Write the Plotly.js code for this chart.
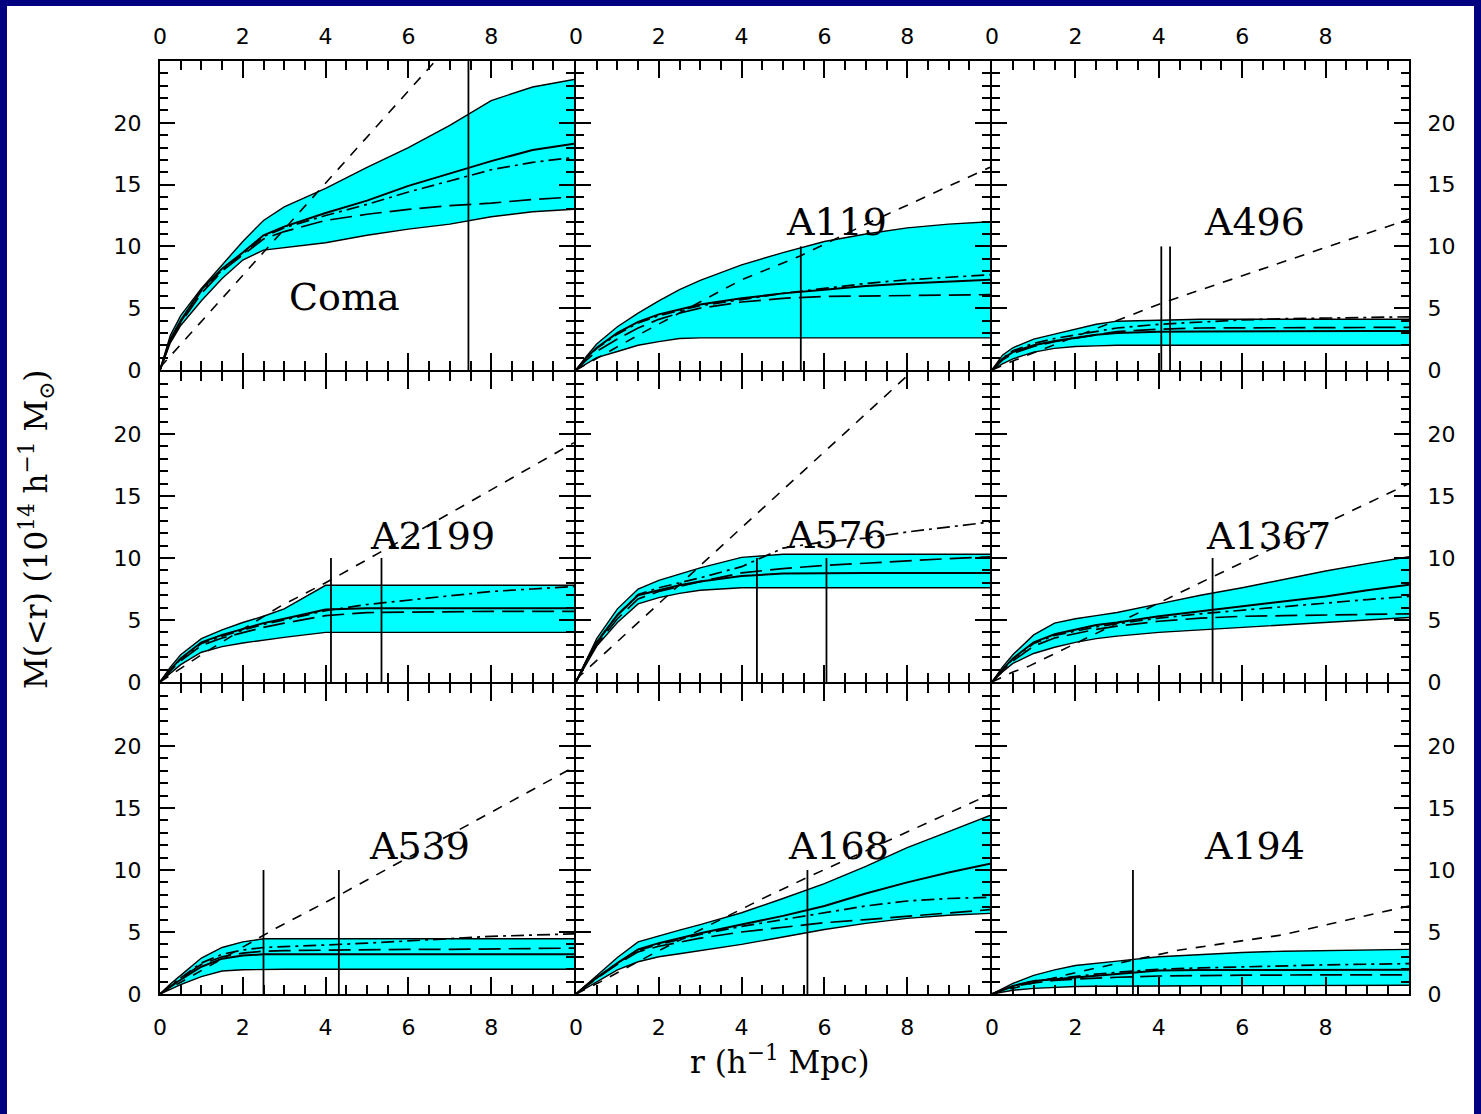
<!DOCTYPE html>
<html><head><meta charset="utf-8">
<script src="https://cdn.plot.ly/plotly-3.0.1.min.js"></script>
<style>html,body{margin:0;padding:0;background:#000080;}#chart{width:1481px;height:1114px;}</style>
</head><body><div id="chart"></div>
<script>
// common radius grid (h^-1 Mpc)
const r = [0, 0.25, 0.5, 1, 1.5, 2, 2.5, 3, 4, 5, 6, 7, 8, 9, 10];
const clusterNames = ['Coma', 'A119', 'A496', 'A2199', 'A576', 'A1367', 'A539', 'A168', 'A194'];

// Coma
const comaUpper   = [0, 2.8, 4.4, 6.6, 8.5, 10.4, 12.1, 13.2, 14.7, 16.4, 18.0, 19.8, 21.8, 22.9, 23.5];
const comaLower   = [0, 2.2, 3.6, 5.6, 7.4, 8.9, 9.7, 9.9, 10.3, 10.9, 11.4, 11.8, 12.4, 12.8, 13.0];
const comaSolid   = [0, 2.5, 4.0, 6.5, 8.2, 9.5, 10.9, 11.6, 12.7, 13.7, 14.9, 15.9, 16.9, 17.8, 18.3];
const comaDashDot = [0, 2.4, 3.9, 6.4, 8.1, 9.4, 10.8, 11.5, 12.5, 13.4, 14.4, 15.3, 16.2, 16.8, 17.2];
const comaLongDash= [0, 2.3, 3.8, 6.2, 8.0, 9.3, 10.6, 11.2, 12.1, 12.6, 13.0, 13.3, 13.5, 13.8, 14.0];
const comaDashX = [0, 6.65];
const comaDashY = [0.2, 25.0];
const comaVert = [7.45];

// A119
const a119Upper   = [0, 1.1, 2.1, 3.5, 4.6, 5.6, 6.5, 7.25, 8.5, 9.5, 10.4, 11.0, 11.5, 11.8, 12.0];
const a119Lower   = [0, 0.5, 1.0, 1.5, 2.0, 2.3, 2.55, 2.6, 2.6, 2.6, 2.6, 2.6, 2.6, 2.6, 2.6];
const a119Solid   = [0, 1.0, 1.8, 3.0, 3.9, 4.5, 4.9, 5.3, 5.8, 6.2, 6.5, 6.8, 7.0, 7.15, 7.3];
const a119DashDot = [0, 0.95, 1.75, 2.9, 3.8, 4.4, 4.8, 5.2, 5.7, 6.2, 6.6, 7.0, 7.3, 7.5, 7.7];
const a119LongDash= [0, 0.8, 1.5, 2.5, 3.4, 4.1, 4.6, 5.0, 5.5, 5.8, 5.95, 6.0, 6.05, 6.1, 6.1];
const a119DashX = [0, 1.6, 4.0, 5.4, 7.0, 9.8, 10];
const a119DashY = [0, 3.0, 7.3, 9.2, 11.8, 16.1, 16.4];
const a119Vert = [5.43];

// A496
const a496Upper   = [0, 1.2, 1.8, 2.5, 2.9, 3.3, 3.7, 3.95, 4.05, 4.1, 4.1, 4.1, 4.1, 4.1, 4.1];
const a496Lower   = [0, 0.5, 0.9, 1.45, 1.75, 1.9, 1.95, 2.0, 2.0, 2.0, 2.0, 2.0, 2.0, 2.0, 2.0];
const a496Solid   = [0, 0.9, 1.45, 2.0, 2.35, 2.6, 2.85, 3.0, 3.1, 3.12, 3.14, 3.15, 3.15, 3.15, 3.15];
const a496DashDot = [0, 0.95, 1.55, 2.15, 2.55, 2.85, 3.1, 3.4, 3.7, 3.9, 4.05, 4.15, 4.2, 4.25, 4.3];
const a496LongDash= [0, 0.8, 1.35, 1.9, 2.3, 2.6, 2.85, 3.1, 3.3, 3.4, 3.42, 3.44, 3.45, 3.45, 3.45];
const a496DashX = [0, 0.7, 4.1, 9.75, 10];
const a496DashY = [0, 1.0, 5.45, 11.9, 12.2];
const a496Vert = [4.06, 4.27];

// A2199
const a2199Upper   = [0, 1.2, 2.2, 3.5, 4.2, 4.8, 5.3, 5.9, 7.8, 7.8, 7.8, 7.8, 7.8, 7.8, 7.8];
const a2199Lower   = [0, 0.7, 1.4, 2.4, 2.85, 3.15, 3.4, 3.6, 4.0, 4.0, 4.0, 4.0, 4.0, 4.0, 4.0];
const a2199Solid   = [0, 1.0, 1.9, 3.2, 3.8, 4.3, 4.75, 5.1, 5.85, 5.95, 5.95, 5.95, 5.95, 5.95, 5.95];
const a2199DashDot = [0, 1.0, 1.85, 3.1, 3.7, 4.2, 4.65, 5.0, 5.75, 6.25, 6.6, 7.0, 7.3, 7.5, 7.7];
const a2199LongDash= [0, 0.9, 1.7, 2.95, 3.55, 4.0, 4.4, 4.75, 5.35, 5.6, 5.65, 5.7, 5.7, 5.7, 5.7];
const a2199DashX = [0, 1, 2.9, 4, 7, 10];
const a2199DashY = [0, 2.2, 6.1, 8.0, 13.6, 19.3];
const a2199Vert = [4.13, 5.35];

// A576
const a576Upper   = [0, 1.8, 3.5, 5.9, 7.5, 8.2, 8.7, 9.2, 10.05, 10.3, 10.3, 10.3, 10.3, 10.3, 10.3];
const a576Lower   = [0, 1.5, 2.9, 4.8, 6.3, 6.8, 7.15, 7.4, 7.6, 7.6, 7.6, 7.6, 7.6, 7.6, 7.6];
const a576Solid   = [0, 1.7, 3.2, 5.4, 7.0, 7.4, 7.8, 8.1, 8.55, 8.75, 8.8, 8.8, 8.8, 8.8, 8.8];
const a576DashDot = [0, 1.7, 3.2, 5.4, 7.05, 7.6, 8.0, 8.4, 9.3, 10.8, 11.3, 11.6, 12.1, 12.5, 12.9];
const a576LongDash= [0, 1.6, 3.0, 5.1, 6.7, 7.3, 7.7, 8.1, 8.8, 9.15, 9.4, 9.6, 9.8, 9.95, 10.1];
const a576DashX = [0, 8.2];
const a576DashY = [0.2, 25.3];
const a576Vert = [4.37, 6.05];

// A1367
const a1367Upper   = [0, 1.2, 2.2, 3.8, 4.75, 5.1, 5.35, 5.6, 6.3, 7.0, 7.6, 8.3, 8.95, 9.55, 10.1];
const a1367Lower   = [0, 0.8, 1.5, 2.3, 2.8, 3.2, 3.5, 3.7, 4.0, 4.2, 4.4, 4.6, 4.85, 5.05, 5.2];
const a1367Solid   = [0, 1.0, 1.9, 3.2, 3.85, 4.2, 4.6, 4.8, 5.3, 5.7, 6.1, 6.5, 6.9, 7.4, 7.85];
const a1367DashDot = [0, 1.0, 1.85, 3.1, 3.75, 4.1, 4.45, 4.7, 5.15, 5.5, 5.8, 6.1, 6.4, 6.65, 6.9];
const a1367LongDash= [0, 0.9, 1.7, 2.9, 3.55, 3.9, 4.25, 4.5, 4.9, 5.15, 5.3, 5.35, 5.4, 5.45, 5.5];
const a1367DashX = [0, 0.5, 0.9, 5.3, 10];
const a1367DashY = [0, 0.8, 1.3, 8.5, 16.0];
const a1367Vert = [5.29];

// A539
const a539Upper   = [0, 0.8, 1.5, 2.9, 3.75, 4.2, 4.45, 4.45, 4.45, 4.45, 4.45, 4.45, 4.45, 4.45, 4.45];
const a539Lower   = [0, 0.4, 0.75, 1.4, 1.85, 1.95, 2.0, 2.0, 2.0, 2.0, 2.0, 2.0, 2.0, 2.0, 2.0];
const a539Solid   = [0, 0.6, 1.15, 2.2, 2.85, 3.1, 3.2, 3.2, 3.2, 3.2, 3.2, 3.2, 3.2, 3.2, 3.2];
const a539DashDot = [0, 0.7, 1.3, 2.5, 3.2, 3.55, 3.75, 3.8, 3.95, 4.1, 4.3, 4.45, 4.65, 4.75, 4.85];
const a539LongDash= [0, 0.65, 1.25, 2.4, 3.0, 3.3, 3.45, 3.5, 3.55, 3.55, 3.6, 3.6, 3.65, 3.7, 3.7];
const a539DashX = [0, 2.8, 4.4, 10];
const a539DashY = [0, 5.3, 8.1, 18.3];
const a539Vert = [2.5, 4.32];

// A168
const a168Upper   = [0, 0.75, 1.5, 2.95, 4.2, 4.7, 5.15, 5.6, 6.55, 7.7, 8.9, 10.3, 11.8, 13.1, 14.4];
const a168Lower   = [0, 0.5, 1.0, 1.95, 2.6, 3.0, 3.25, 3.5, 4.0, 4.6, 5.2, 5.7, 6.1, 6.35, 6.5];
const a168Solid   = [0, 0.7, 1.3, 2.5, 3.6, 4.1, 4.5, 4.9, 5.6, 6.3, 7.1, 8.1, 9.0, 9.8, 10.5];
const a168DashDot = [0, 0.7, 1.3, 2.5, 3.5, 4.0, 4.4, 4.8, 5.45, 6.0, 6.6, 7.1, 7.5, 7.7, 7.8];
const a168LongDash= [0, 0.65, 1.25, 2.4, 3.4, 3.85, 4.2, 4.5, 5.0, 5.4, 5.75, 6.0, 6.25, 6.5, 6.8];
const a168DashX = [0, 0.6, 2, 4.45, 5.65, 10];
const a168DashY = [0, 1.0, 3.5, 7.6, 9.5, 16.1];
const a168Vert = [5.59];

// A194
const a194Upper   = [0, 0.4, 0.85, 1.5, 1.95, 2.3, 2.5, 2.65, 3.0, 3.2, 3.35, 3.45, 3.5, 3.55, 3.6];
const a194Lower   = [0, 0.15, 0.3, 0.45, 0.55, 0.6, 0.62, 0.64, 0.65, 0.66, 0.67, 0.68, 0.69, 0.7, 0.7];
const a194Solid   = [0, 0.35, 0.65, 1.05, 1.2, 1.3, 1.45, 1.6, 1.9, 1.93, 1.94, 1.95, 1.95, 1.95, 1.95];
const a194DashDot = [0, 0.35, 0.65, 1.05, 1.25, 1.4, 1.6, 1.75, 2.0, 2.1, 2.2, 2.3, 2.35, 2.4, 2.45];
const a194LongDash= [0, 0.3, 0.6, 0.9, 1.1, 1.2, 1.3, 1.35, 1.45, 1.5, 1.52, 1.53, 1.54, 1.55, 1.55];
const a194DashX = [0, 1, 2.1, 4.5, 6.95, 10];
const a194DashY = [0, 0.9, 1.8, 3.55, 4.76, 7.1];
const a194Vert = [3.38];

// label positions of cluster names (data coords)
const labelX = [4.46, 6.29, 6.29, 6.57, 6.29, 6.63, 6.27, 6.33, 6.3];
const labelY = [5.9, 12.0, 12.0, 11.8, 11.85, 11.8, 11.95, 11.95, 11.95];
// top of the vertical marker lines
const vertTop = [25, 10, 10, 10, 10, 10, 10, 10, 10];

const xTickVals = [0, 2, 4, 6, 8];
const yTickVals = [0, 5, 10, 15, 20];

const panels = [
  [comaUpper, comaLower, comaSolid, comaDashDot, comaLongDash, comaDashX, comaDashY, comaVert],
  [a119Upper, a119Lower, a119Solid, a119DashDot, a119LongDash, a119DashX, a119DashY, a119Vert],
  [a496Upper, a496Lower, a496Solid, a496DashDot, a496LongDash, a496DashX, a496DashY, a496Vert],
  [a2199Upper, a2199Lower, a2199Solid, a2199DashDot, a2199LongDash, a2199DashX, a2199DashY, a2199Vert],
  [a576Upper, a576Lower, a576Solid, a576DashDot, a576LongDash, a576DashX, a576DashY, a576Vert],
  [a1367Upper, a1367Lower, a1367Solid, a1367DashDot, a1367LongDash, a1367DashX, a1367DashY, a1367Vert],
  [a539Upper, a539Lower, a539Solid, a539DashDot, a539LongDash, a539DashX, a539DashY, a539Vert],
  [a168Upper, a168Lower, a168Solid, a168DashDot, a168LongDash, a168DashX, a168DashY, a168Vert],
  [a194Upper, a194Lower, a194Solid, a194DashDot, a194LongDash, a194DashX, a194DashY, a194Vert]
];

const W = 1481, H = 1114;
const colPx = [[160, 574], [576, 990], [992, 1409]];
const rowPx = [[61, 370], [372, 682], [684, 994]];
const CYAN = '#00ffff';
const tickFont = {family: 'DejaVu Sans', size: 22, color: '#000'};

const traces = [];
const layout = {
  width: W, height: H,
  margin: {l: 0, r: 0, t: 0, b: 0},
  paper_bgcolor: '#000080',
  plot_bgcolor: 'rgba(0,0,0,0)',
  showlegend: false,
  hovermode: false,
  shapes: [{type: 'rect', xref: 'paper', yref: 'paper', x0: 7 / W, x1: 1474 / W, y0: -0.01, y1: 1 - 6 / H,
            fillcolor: '#ffffff', line: {width: 0}, layer: 'below'}],
  annotations: []
};

panels.forEach((p, i) => {
  const [up, lo, so, dd, ld, dx, dy, vx] = p;
  const row = Math.floor(i / 3), col = i % 3;
  const n = i + 1;
  const xa = n === 1 ? 'x' : 'x' + n;
  const ya = n === 1 ? 'y' : 'y' + n;
  const base = {xaxis: xa, yaxis: ya, mode: 'lines', hoverinfo: 'skip'};
  traces.push(Object.assign({}, base, {x: r, y: lo, line: {color: '#000', width: 1.4}}));
  traces.push(Object.assign({}, base, {x: r, y: up, line: {color: '#000', width: 1.4}, fill: 'tonexty', fillcolor: CYAN}));
  traces.push(Object.assign({}, base, {x: r, y: so, line: {color: '#000', width: 2}}));
  traces.push(Object.assign({}, base, {x: r, y: dd, line: {color: '#000', width: 1.7, dash: '13px,5px,3px,5px'}}));
  traces.push(Object.assign({}, base, {x: r, y: ld, line: {color: '#000', width: 1.7, dash: '22px,8px'}}));
  traces.push(Object.assign({}, base, {x: dx, y: dy, line: {color: '#000', width: 1.6, dash: '10px,9px'}}));
  vx.forEach(v => {
    traces.push(Object.assign({}, base, {x: [v, v], y: [0, vertTop[i]], line: {color: '#000', width: 1.8}}));
  });

  const xd = [colPx[col][0] / W, colPx[col][1] / W];
  const yd = [1 - rowPx[row][1] / H, 1 - rowPx[row][0] / H];
  const xKey = n === 1 ? 'xaxis' : 'xaxis' + n;
  const yKey = n === 1 ? 'yaxis' : 'yaxis' + n;
  layout[xKey] = {
    domain: xd, anchor: ya, range: [0, 10], fixedrange: true,
    showgrid: false, zeroline: false,
    showline: true, linecolor: '#000', linewidth: 2, mirror: 'ticks',
    tickmode: 'array', tickvals: xTickVals,
    ticks: 'inside', ticklen: 17, tickwidth: 2, tickcolor: '#000',
    minor: {dtick: 0.5, tick0: 0, ticklen: 9, tickwidth: 2, tickcolor: '#000', ticks: 'inside', showgrid: false},
    showticklabels: row !== 1,
    side: row === 0 ? 'top' : 'bottom',
    tickfont: tickFont,
    ticklabelstandoff: row === 0 ? 6 : 13
  };
  layout[yKey] = {
    domain: yd, anchor: xa, range: [0, 25], fixedrange: true,
    showgrid: false, zeroline: false,
    showline: true, linecolor: '#000', linewidth: 2, mirror: 'ticks',
    tickmode: 'array', tickvals: yTickVals,
    ticks: 'inside', ticklen: 15, tickwidth: 2, tickcolor: '#000',
    minor: {dtick: 1, tick0: 0, ticklen: 8, tickwidth: 2, tickcolor: '#000', ticks: 'inside', showgrid: false},
    showticklabels: col !== 1,
    side: col === 2 ? 'right' : 'left',
    tickfont: tickFont,
    ticklabelstandoff: 12
  };
  layout.annotations.push({
    xref: xa, yref: ya, x: labelX[i], y: labelY[i], text: clusterNames[i], showarrow: false,
    xanchor: 'center', yanchor: 'middle',
    font: {family: 'DejaVu Serif', size: 38, color: '#000'}
  });
});

layout.annotations.push({
  xref: 'paper', yref: 'paper', x: 36 / W, y: 1 - 530 / H, textangle: -90, showarrow: false,
  xanchor: 'center', yanchor: 'middle',
  text: 'M(&lt;r) (10<sup>14</sup> h<sup>−1</sup> M<sub>⊙</sub>)',
  font: {family: 'DejaVu Serif', size: 31, color: '#000'}
});
layout.annotations.push({
  xref: 'paper', yref: 'paper', x: 780 / W, y: 1 - 1060 / H, showarrow: false,
  xanchor: 'center', yanchor: 'middle',
  text: 'r (h<sup>−1</sup> Mpc)',
  font: {family: 'DejaVu Serif', size: 31, color: '#000'}
});

Plotly.newPlot('chart', traces, layout, {staticPlot: true, displayModeBar: false});
</script>
</body></html>
